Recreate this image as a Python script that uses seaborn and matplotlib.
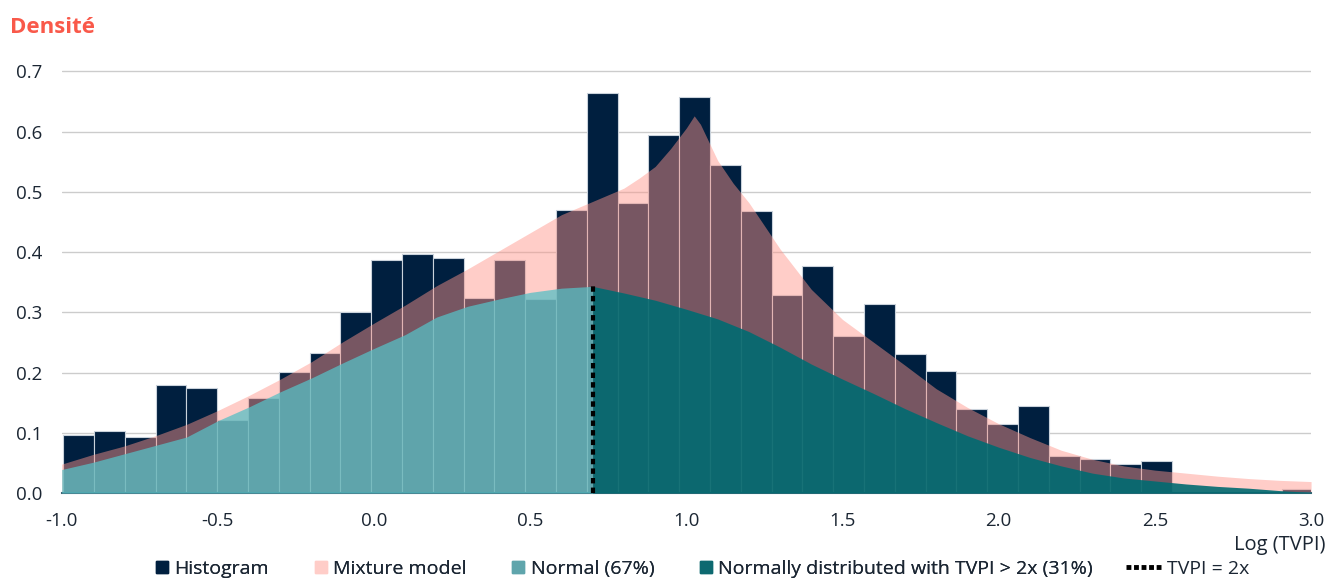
import numpy as np
import seaborn as sns
import matplotlib.pyplot as plt
from matplotlib.lines import Line2D

# histogram: 36 regular bins from -0.995 (width 0.0986), then an empty gap and one last bin
bin_start = -0.995
bin_width = 0.0986
bin_edges = list(np.round(bin_start + bin_width * np.arange(37), 4)) + [2.908, 3.0]
hist_heights = [0.096, 0.103, 0.093, 0.179, 0.174, 0.122, 0.158, 0.201, 0.233, 0.301,
                0.386, 0.397, 0.390, 0.323, 0.386, 0.322, 0.470, 0.664, 0.482, 0.595,
                0.657, 0.544, 0.468, 0.329, 0.376, 0.261, 0.314, 0.231, 0.202, 0.140,
                0.115, 0.145, 0.061, 0.057, 0.048, 0.053, 0.0, 0.007]

# mixture model density
mix_x = [-1.0, -0.9, -0.8, -0.7, -0.6, -0.5, -0.4, -0.3, -0.2, -0.1, 0.0, 0.1, 0.2, 0.3,
         0.4, 0.5, 0.6, 0.7, 0.8, 0.85, 0.9, 0.95, 1.0, 1.025, 1.045, 1.1, 1.15, 1.2, 1.3,
         1.4, 1.5, 1.6, 1.7, 1.8, 1.9, 2.0, 2.1, 2.2, 2.3, 2.4, 2.5, 2.6, 2.7, 2.8, 2.9, 3.0]
mix_y = [0.048, 0.064, 0.078, 0.095, 0.114, 0.137, 0.162, 0.189, 0.218, 0.251, 0.282, 0.312,
         0.344, 0.372, 0.402, 0.432, 0.462, 0.484, 0.506, 0.523, 0.542, 0.572, 0.606, 0.626,
         0.612, 0.552, 0.514, 0.482, 0.405, 0.338, 0.288, 0.250, 0.212, 0.173, 0.142, 0.115,
         0.092, 0.071, 0.056, 0.045, 0.038, 0.033, 0.028, 0.024, 0.021, 0.019]

# normal component, split at TVPI = 2x
tvpi_2x = 0.70
norm_x_low = [-1.0, -0.9, -0.8, -0.7, -0.6, -0.5, -0.4, -0.3, -0.2, -0.1, 0.0, 0.1, 0.2,
              0.3, 0.4, 0.5, 0.6, 0.70]
norm_y_low = [0.039, 0.051, 0.065, 0.079, 0.093, 0.120, 0.143, 0.168, 0.191, 0.216, 0.240,
              0.263, 0.292, 0.310, 0.322, 0.333, 0.340, 0.343]
norm_x_high = [0.70, 0.8, 0.9, 1.0, 1.1, 1.2, 1.3, 1.4, 1.5, 1.6, 1.7, 1.8, 1.9, 2.0, 2.1,
               2.2, 2.3, 2.4, 2.5, 2.6, 2.7, 2.8, 2.9, 3.0]
norm_y_high = [0.343, 0.332, 0.320, 0.305, 0.289, 0.268, 0.242, 0.214, 0.189, 0.165, 0.140,
               0.117, 0.095, 0.076, 0.059, 0.045, 0.033, 0.025, 0.020, 0.015, 0.011, 0.008,
               0.004, 0.001]

legend_labels = ['Histogram', 'Mixture model', 'Normal (67%)',
                 'Normally distributed with TVPI > 2x (31%)']
legend_line_label = 'TVPI = 2x'

navy = '#001f3f'
pink = '#ff958a'
teal = '#57bfc5'
dark_teal = '#016b71'
text_col = '#1b2633'

sns.set_style('white')
plt.rcParams['font.family'] = ['Open Sans', 'DejaVu Sans']

fig = plt.figure(figsize=(13.27, 5.79), dpi=100)
ax = fig.add_axes([0.0465, 0.1485, 0.9415, 0.7305])

bin_centers = [(bin_edges[i] + bin_edges[i + 1]) / 2 for i in range(len(hist_heights))]
sns.histplot(x=bin_centers, weights=hist_heights, bins=bin_edges, ax=ax,
             color=navy, alpha=1, edgecolor='#c9d2db', linewidth=0.8, zorder=1)

ax.fill_between(mix_x, 0, mix_y, color=pink, alpha=0.47, linewidth=0, zorder=2)
ax.fill_between(norm_x_low, 0, norm_y_low, color=teal, alpha=0.75, linewidth=0, zorder=3)
ax.fill_between(norm_x_high, 0, norm_y_high, color=dark_teal, alpha=0.9, linewidth=0, zorder=3)
ax.vlines(tvpi_2x, 0, norm_y_low[-1], colors='black', linewidth=3,
          linestyles=(0, (1.3, 1.0)), zorder=4)

ax.set_xlim(-1.0, 3.0)
ax.set_ylim(0, 0.702)
ax.set_xticks([-1.0, -0.5, 0.0, 0.5, 1.0, 1.5, 2.0, 2.5, 3.0])
ax.set_xticklabels(['-1.0', '-0.5', '0.0', '0.5', '1.0', '1.5', '2.0', '2.5', '3.0'])
ax.set_yticks([0.0, 0.1, 0.2, 0.3, 0.4, 0.5, 0.6, 0.7])
ax.set_yticklabels(['0.0', '0.1', '0.2', '0.3', '0.4', '0.5', '0.6', '0.7'])
ax.tick_params(axis='both', labelsize=13.5, colors=text_col, length=0)
ax.tick_params(axis='x', pad=14)
ax.tick_params(axis='y', pad=14)
ax.yaxis.grid(True, color='#cccccc', linewidth=1)
ax.set_axisbelow(True)
for side in ['top', 'right', 'left']:
    ax.spines[side].set_visible(False)
ax.spines['bottom'].set_color('#3f6676')
ax.spines['bottom'].set_linewidth(1.5)
ax.set_xlabel('')
ax.set_ylabel('')

fig.text(0.0075, 0.953, 'Densité', color='#f9594a', fontsize=16, fontweight='bold',
         va='center', ha='left')
fig.text(0.9985, 0.059, 'Log (TVPI)', fontsize=14.5, color=text_col, ha='right', va='center')

handles = [
    Line2D([], [], marker='s', linestyle='none', markersize=8.5, color=navy),
    Line2D([], [], marker='s', linestyle='none', markersize=8.5, color='#ffcdc8'),
    Line2D([], [], marker='s', linestyle='none', markersize=8.5, color='#5fa5ac'),
    Line2D([], [], marker='s', linestyle='none', markersize=8.5, color='#0d6970'),
]
leg = fig.legend(handles, legend_labels, loc='center', bbox_to_anchor=(0.470, 0.018), ncol=4,
                 frameon=False, fontsize=14, handlelength=0.8, handletextpad=0.22,
                 columnspacing=2.27, labelcolor=text_col)
fig.add_artist(leg)
line_handle = Line2D([], [], color='black', linewidth=3.5, linestyle=(0, (1.0, 0.55)))
fig.legend([line_handle], [legend_line_label], loc='center', bbox_to_anchor=(0.895, 0.018),
           frameon=False, fontsize=14, handlelength=1.8, handletextpad=0.3,
           labelcolor=text_col)

fig.savefig('out.png', dpi=100)
